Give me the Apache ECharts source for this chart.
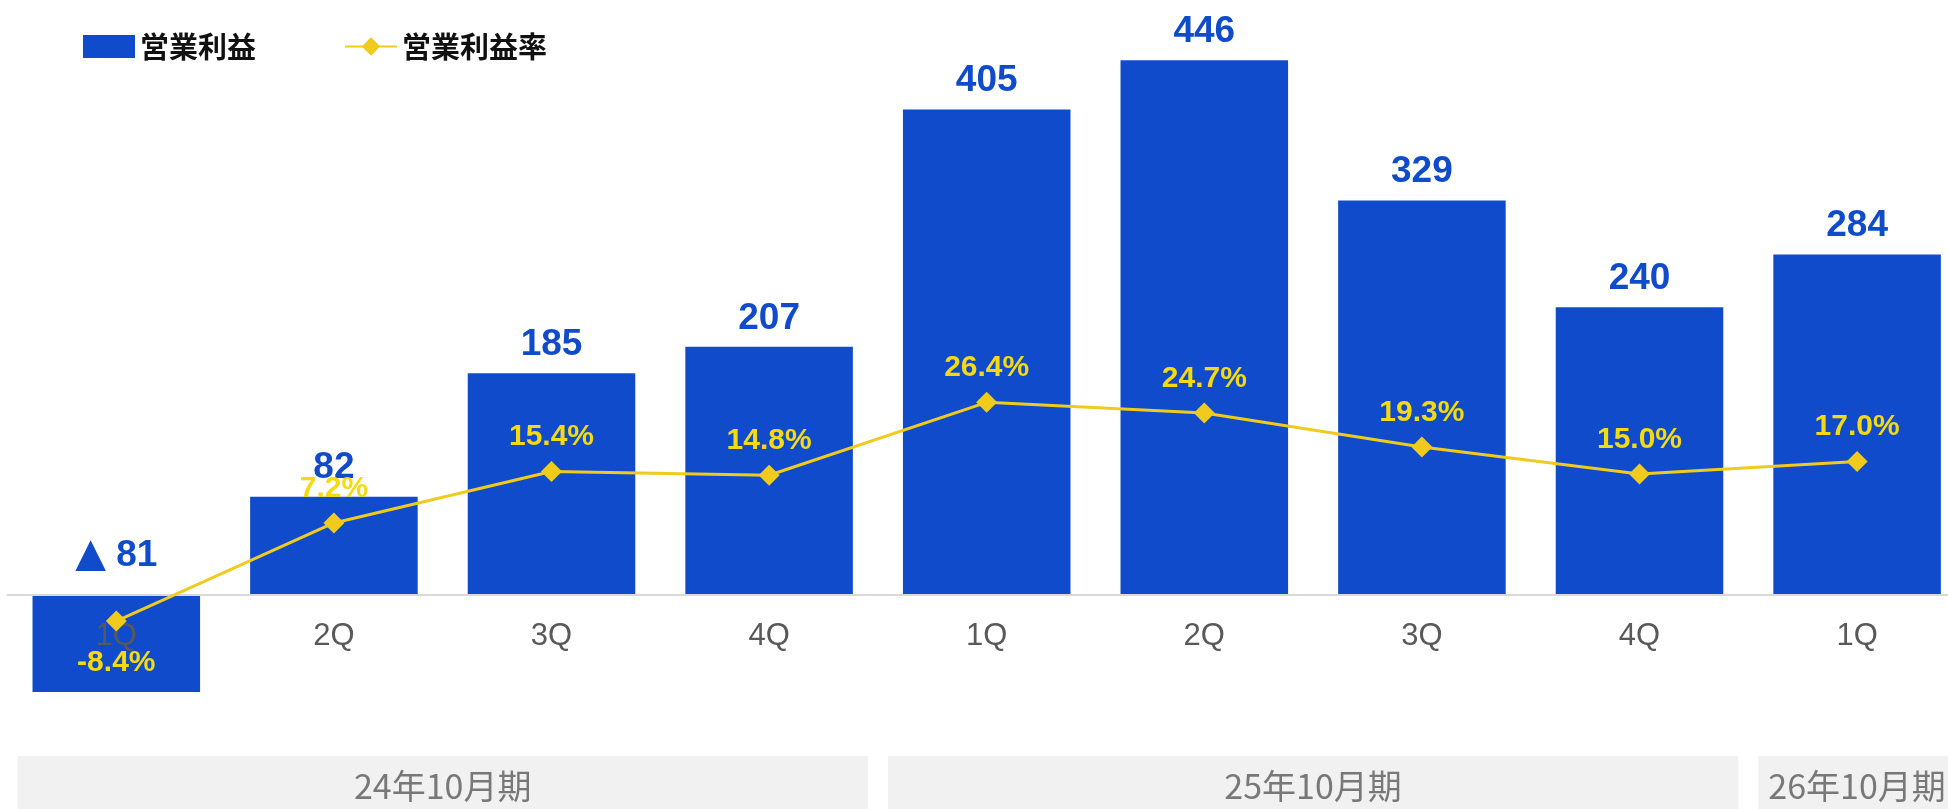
<!DOCTYPE html>
<html>
<head>
<meta charset="utf-8">
<script src="https://cdn.jsdelivr.net/npm/echarts@6/dist/echarts.min.js"></script>
<style>
html,body{margin:0;padding:0;background:#fff;}
#main{width:1948px;height:809px;}
</style>
</head>
<body>
<div id="main"></div>
<script>
// ---- data ----
var categories = ['1Q', '2Q', '3Q', '4Q', '1Q', '2Q', '3Q', '4Q', '1Q'];
var operatingProfit = [-81, 82, 185, 207, 405, 446, 329, 240, 284];
var operatingMargin = [-8.4, 7.2, 15.4, 14.8, 26.4, 24.7, 19.3, 15.0, 17.0];
var fiscalLabels = ['24年10月期', '25年10月期', '26年10月期'];
var fiscalStart = [0, 4, 8];
var fiscalEnd = [3, 7, 8];

var BLUE = '#104BCB';
var LINE_YELLOW = '#F0CB1E';
var LABEL_YELLOW = '#F5DA12';
var NUM_FONT = '"Liberation Sans", Arial, sans-serif';
var CJK_FONT = '"Noto Sans CJK JP", sans-serif';

var groupData = fiscalLabels.map(function (l, i) { return [fiscalStart[i], fiscalEnd[i]]; });

var barData = operatingProfit.map(function (v) {
  return v < 0 ? { value: v, label: { distance: 19 } } : v;
});
var lineData = operatingMargin.map(function (v) {
  return v < 0 ? { value: v, label: { position: 'bottom', distance: 16 } } : v;
});

var chart = echarts.init(document.getElementById('main'), null, { renderer: 'canvas' });
chart.setOption({
  animation: false,
  backgroundColor: '#ffffff',
  legend: {
    left: 78, top: 27,
    itemWidth: 52, itemHeight: 23, itemGap: 88,
    textStyle: { fontSize: 29, fontWeight: 'bold', color: '#111', fontFamily: CJK_FONT },
    data: [{ name: '営業利益', icon: 'rect' }, { name: '営業利益率' }]
  },
  grid: { left: 7.5, top: 55.5, width: 1958.4, bottom: 94.1, containLabel: false, outerBoundsMode: 'none' },
  xAxis: {
    type: 'category',
    data: categories,
    z: 3,
    axisTick: { show: false },
    axisLine: { onZeroAxisIndex: 0, lineStyle: { color: '#d9d9d9', width: 2 } },
    axisLabel: { fontSize: 31, color: '#595959', margin: -94, fontFamily: NUM_FONT }
  },
  yAxis: [
    { type: 'value', min: -100, max: 450, show: false, splitLine: { show: false } },
    { type: 'value', min: -23.34, max: 81.59, show: false, splitLine: { show: false } }
  ],
  series: [
    {
      name: '営業利益',
      type: 'bar',
      z: 2,
      barCategoryGap: '23%',
      itemStyle: { color: BLUE },
      label: {
        show: true, position: 'top', distance: 10,
        color: BLUE, fontSize: 37, fontWeight: 'bold', fontFamily: NUM_FONT,
        formatter: function (p) {
          return p.value < 0 ? '{tri|▲} ' + Math.abs(p.value) : String(p.value);
        },
        rich: { tri: { fontSize: 40, color: BLUE, fontFamily: '"DejaVu Sans", sans-serif' } }
      },
      data: barData
    },
    {
      name: '営業利益率',
      type: 'line',
      yAxisIndex: 1,
      z: 4,
      symbol: 'diamond',
      symbolSize: 21,
      lineStyle: { color: LINE_YELLOW, width: 3 },
      itemStyle: { color: LINE_YELLOW },
      label: {
        show: true, position: 'top', distance: 9,
        color: LABEL_YELLOW, fontSize: 30, fontWeight: 'bold', fontFamily: NUM_FONT,
        formatter: function (p) { return Number(p.value).toFixed(1) + '%'; }
      },
      data: lineData
    },
    {
      name: 'fiscal',
      type: 'custom',
      silent: true,
      z: 1,
      encode: { x: [0, 1] },
      renderItem: function (params, api) {
        var cs = params.coordSys;
        var band = api.size([1, 0])[0];
        var x0 = api.coord([api.value(0), 0])[0] - band / 2 + 10;
        var x1 = api.coord([api.value(1), 0])[0] + band / 2 - 10;
        var top = cs.y + cs.height + 41;
        var h = 70;
        return {
          type: 'group',
          children: [
            { type: 'rect', shape: { x: x0, y: top, width: x1 - x0, height: h }, style: { fill: '#f1f1f1' } },
            {
              type: 'text',
              style: {
                text: fiscalLabels[params.dataIndex], x: (x0 + x1) / 2, y: top + 30,
                align: 'center', verticalAlign: 'middle',
                fill: '#787878', fontSize: 34, fontFamily: CJK_FONT
              }
            }
          ]
        };
      },
      data: groupData
    }
  ]
});
</script>
</body>
</html>
